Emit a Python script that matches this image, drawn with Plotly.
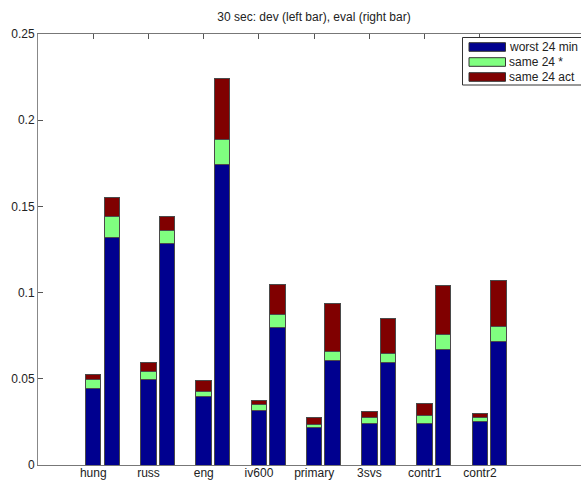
import plotly.graph_objects as go

categories = ["hung", "russ", "eng", "iv600", "primary", "3svs", "contr1", "contr2"]
series_names = ["worst 24 min", "same 24 *", "same 24 act"]

# segment heights (stacked), dev = left bar, eval = right bar
dev_worst24min = [0.0444, 0.0497, 0.0396, 0.0319, 0.0218, 0.0241, 0.0238, 0.0253]
dev_same24star = [0.0053, 0.0044, 0.0033, 0.0030, 0.0016, 0.0033, 0.0050, 0.0021]
dev_same24act = [0.0028, 0.0054, 0.0063, 0.0024, 0.0044, 0.0037, 0.0067, 0.0026]

eval_worst24min = [0.1321, 0.1286, 0.1744, 0.0796, 0.0604, 0.0597, 0.0672, 0.0718]
eval_same24star = [0.0118, 0.0074, 0.0145, 0.0075, 0.0053, 0.0052, 0.0083, 0.0087]
eval_same24act = [0.0114, 0.0081, 0.0353, 0.0174, 0.0280, 0.0201, 0.0284, 0.0267]

colors = ["#00008F", "#80FF80", "#800000"]

y_ticks = [0, 0.05, 0.1, 0.15, 0.2, 0.25]
y_ticktext = ["0", "0.05", "0.1", "0.15", "0.2", "0.25"]

positions = list(range(1, len(categories) + 1))
offset = 0.335
bar_w = 0.28

W, H = 581, 481
ML, MR, MT, MB = 38, 0, 34, 16
PW, PH = W - ML - MR, H - MT - MB


def px_x(px):
    return (px - ML) / PW


def px_y(py):
    return (H - MB - py) / PH


fig = go.Figure()
dev_series = [dev_worst24min, dev_same24star, dev_same24act]
eval_series = [eval_worst24min, eval_same24star, eval_same24act]
for k, name in enumerate(series_names):
    fig.add_trace(go.Bar(
        x=positions, y=dev_series[k], name=name, width=bar_w,
        marker=dict(color=colors[k], line=dict(color="#4a4a4a", width=1)),
        legendgroup=name, showlegend=False,
    ))
    fig.add_trace(go.Bar(
        x=[p + offset for p in positions], y=eval_series[k], name=name, width=bar_w,
        marker=dict(color=colors[k], line=dict(color="#4a4a4a", width=1)),
        legendgroup=name, showlegend=False,
    ))

shapes = [
    # mask the plot-area edge at the cropped right side (the reference axes run off the page)
    dict(type="rect", xref="paper", yref="paper", x0=px_x(577.5), x1=px_x(584),
         y0=px_y(464.5), y1=px_y(34.5), fillcolor="white", line=dict(width=0), layer="above"),
    # legend box drawn in MATLAB style (wide swatches)
    dict(type="rect", xref="paper", yref="paper",
         x0=px_x(462.5), x1=px_x(590), y0=px_y(85), y1=px_y(37.5),
         fillcolor="white", line=dict(color="#333", width=1), layer="above"),
]
annotations = []
row_centers = [47, 62, 77]
for k, name in enumerate(series_names):
    cy = row_centers[k]
    shapes.append(dict(type="rect", xref="paper", yref="paper",
                       x0=px_x(469), x1=px_x(505.5), y0=px_y(cy + 4.3), y1=px_y(cy - 4.3),
                       fillcolor=colors[k], line=dict(color="#333", width=1), layer="above"))
    annotations.append(dict(text=name, xref="paper", yref="paper", x=px_x(507), y=px_y(cy),
                            xanchor="left", yanchor="middle", showarrow=False,
                            font=dict(size=12, color="#222")))

font_family = "Liberation Sans, Arial, sans-serif"
fig.update_layout(
    template="none",
    width=W, height=H,
    autosize=False,
    barmode="stack",
    showlegend=False,
    hovermode=False,
    dragmode=False,
    plot_bgcolor="white", paper_bgcolor="white",
    margin=dict(l=ML, r=MR, t=MT, b=MB, pad=0, autoexpand=False),
    font=dict(family=font_family, size=12, color="#222"),
    title=dict(text="30 sec: dev (left bar), eval (right bar)", x=314 / W, xref="container",
               xanchor="center", y=1 - 16.5 / H, yanchor="middle",
               font=dict(family=font_family, size=12, color="#222")),
    xaxis=dict(range=[0, PW / 55.24], tickmode="array", tickvals=positions, ticktext=categories,
               ticks="inside", ticklen=5, tickcolor="#555", showline=True, linecolor="#777",
               linewidth=1, mirror="ticks", showgrid=False, zeroline=False, layer="below traces",
               automargin=False, ticklabelstandoff=-3, tickfont=dict(size=12, color="#222")),
    yaxis=dict(range=[0, 0.25], tickmode="array", tickvals=y_ticks, ticktext=y_ticktext,
               ticks="inside", ticklen=5, tickcolor="#555", showline=True, linecolor="#888",
               linewidth=1, mirror=False, showgrid=False, zeroline=False,
               automargin=False, tickfont=dict(size=12, color="#222")),
    shapes=shapes,
    annotations=annotations,
)

fig.write_html("out.html", config={"displayModeBar": False, "responsive": False},
               post_script="document.body.style.margin='0';document.body.style.overflow='hidden';")
